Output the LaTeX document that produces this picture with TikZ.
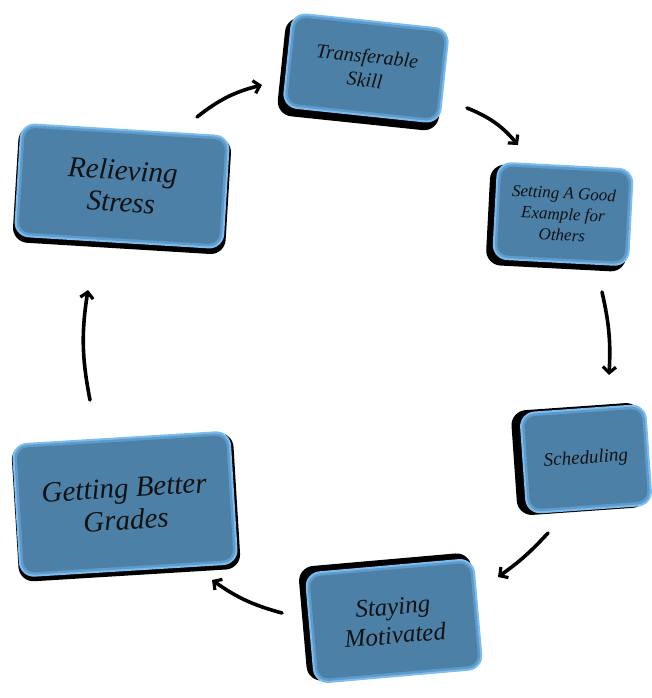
\documentclass[tikz,border=0pt]{standalone}
\usepackage{fontspec}
\setmainfont{Liberation Serif}
\usetikzlibrary{calc,arrows.meta}

\definecolor{rimlight}{HTML}{7DBDEE}
\definecolor{rimmid}{HTML}{5E9BCB}
\definecolor{boxfill}{HTML}{4C80A6}
\definecolor{inktext}{HTML}{111111}

\tikzset{
  boxshadow/.style={rectangle, fill=black, rounded corners=15pt, inner sep=0pt},
  boxrim/.style={rectangle, fill=rimlight, rounded corners=15pt, inner sep=0pt},
  boxmid/.style={rectangle, fill=rimmid, rounded corners=13pt, inner sep=0pt},
  boxface/.style={rectangle, fill=boxfill, rounded corners=11pt, inner sep=0pt,
    text=inktext, align=center},
  cyclearrow/.style={line width=3.6pt, line cap=round,
    -{Straight Barb[length=6pt,width=13pt,line width=3.2pt]}},
}

% #1 name, #2 centre, #3 angle, #4 width, #5 height, #6 shadow shift, #7 font, #8 text
\newcommand\cyclebox[8]{%
  \node[boxshadow, rotate=#3, minimum width=#4pt+3pt, minimum height=#5pt+3pt]
    (#1-shadow) at ($(#2)+(#6)$) {};
  \node[boxrim, rotate=#3, minimum width=#4pt, minimum height=#5pt] (#1) at (#2) {};
  \node[boxmid, rotate=#3, minimum width=#4pt-4pt, minimum height=#5pt-4pt]
    (#1-mid) at (#2) {};
  \node[boxface, rotate=#3, minimum width=#4pt-9pt, minimum height=#5pt-9pt, font=#7]
    (#1-face) at (#2) {#8};
}

\begin{document}
\begin{tikzpicture}[x=1pt,y=-1pt]
  \useasboundingbox (0,0) rectangle (652,698);

  \cyclebox{skill}{366,68}{-6}{159}{96}{-4,6}
    {\itshape\fontsize{20}{24}\selectfont}{Transferable\\Skill}
  \cyclebox{example}{563,214}{-3}{137}{98}{-5,4}
    {\itshape\fontsize{17}{21}\selectfont}{Setting A Good\\Example for\\Others}
  \cyclebox{sched}{586,459}{4}{127}{102}{-7,0}
    {\itshape\fontsize{19}{22}\selectfont}{Scheduling}
  \cyclebox{motiv}{394,621}{5}{170}{112}{-5,-4}
    {\itshape\fontsize{25}{29}\selectfont}{Staying\\Motivated}
  \cyclebox{grades}{125,504}{3.5}{219}{134}{1,3}
    {\itshape\fontsize{29}{32}\selectfont}{Getting Better\\Grades}
  \cyclebox{stress}{122,186}{-3.5}{210}{114}{0,4}
    {\itshape\fontsize{29}{32}\selectfont}{Relieving\\Stress}

  % free ends of the connecting arrows
  \coordinate (stress-out) at (197,117);
  \coordinate (skill-in)   at (262,85);
  \coordinate (skill-out)  at (467,108);
  \coordinate (example-in) at (518,145);
  \coordinate (example-out) at (602,292);
  \coordinate (sched-in)   at (609,375);
  \coordinate (sched-out)  at (548,533);
  \coordinate (motiv-in)   at (498,577);
  \coordinate (motiv-out)  at (282,613);
  \coordinate (grades-in)  at (212,580);
  \coordinate (grades-out) at (90,400);
  \coordinate (stress-in)  at (88,290);

  \draw[cyclearrow] (stress-out) to[bend left=12] (skill-in);
  \draw[cyclearrow] (skill-out) to[bend left=14] (example-in);
  \draw[cyclearrow] (example-out) to[bend left=8] (sched-in);
  \draw[cyclearrow] (sched-out) to[bend left=6] (motiv-in);
  \draw[cyclearrow] (motiv-out) to[bend left=10] (grades-in);
  \draw[cyclearrow] (grades-out) to[bend left=10] (stress-in);
\end{tikzpicture}
\end{document}
